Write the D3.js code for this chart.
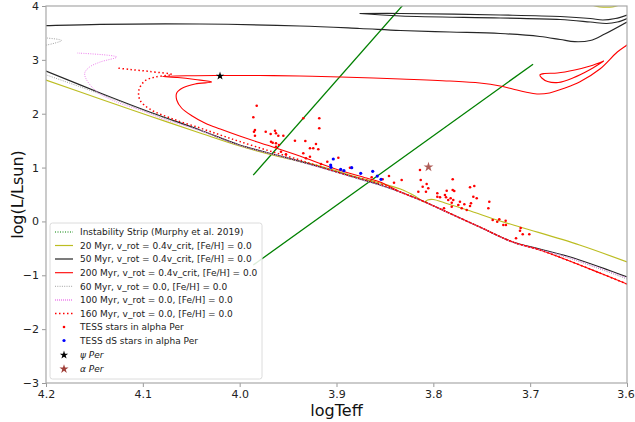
<!DOCTYPE html>
<html>
<head>
<meta charset="utf-8">
<script src="https://cdn.jsdelivr.net/npm/d3@7"></script>
<style>
  body { margin: 0; background: #fff; }
  svg { font-family: "DejaVu Sans", sans-serif; }
</style>
</head>
<body>
<div id="chartDiv"></div>
<script>

// ---- data: [logTeff, log(L/Lsun)] ----
const stripBlueEdge = [[3.986, 0.86], [3.820, 4.25]];
const stripRedEdge = [[3.986, -0.81], [3.697, 2.92]];

const iso20 = [[3.600,-0.753],[3.649,-0.438],[3.707,-0.122],[3.731,0.008],[3.765,0.212],[3.788,0.342],
  [3.800,0.407],[3.806,0.398],[3.809,0.361],[3.819,0.472],[3.834,0.602],[3.855,0.713],[3.876,0.806],
  [3.917,1.029],[3.958,1.196],[4.000,1.400],[4.041,1.642],[4.093,1.958],[4.144,2.273],[4.200,2.626],[4.210,2.69]];
const iso20Top = [[3.640,4.037],[3.628,3.985],[3.615,3.985],[3.605,4.037]];

const iso50 = [[3.600,-1.032],[3.628,-0.846],[3.662,-0.642],[3.690,-0.512],[3.718,-0.382],[3.752,-0.104],
  [3.786,0.175],[3.811,0.379],[3.834,0.546],[3.855,0.676],[3.876,0.788],[3.917,1.011],[3.958,1.215],
  [4.000,1.419],[4.041,1.698],[4.093,2.032],[4.144,2.385],[4.200,2.793],[4.210,2.86]];
const iso50Giant = [[4.210,3.630],[4.200,3.635],[4.144,3.660],[4.041,3.666],[3.938,3.629],[3.876,3.582],
  [3.834,3.545],[3.783,3.517],[3.731,3.489],[3.690,3.434],[3.669,3.378],[3.654,3.337],[3.638,3.359],
  [3.623,3.480],[3.600,3.703]];
const iso50LoopA = [[3.876,3.861],[3.834,3.861],[3.731,3.833],[3.669,3.805],[3.638,3.768],[3.625,3.740],
  [3.612,3.768],[3.600,3.833]];
const iso50LoopB = [[3.876,3.861],[3.834,3.814],[3.731,3.777],[3.669,3.749],[3.638,3.703],[3.621,3.675],
  [3.610,3.703],[3.600,3.768]];

const iso200 = [[3.600,-1.162],[3.628,-0.958],[3.662,-0.716],[3.690,-0.530],[3.718,-0.382],[3.752,-0.104],
  [3.786,0.175],[3.811,0.379],[3.834,0.546],[3.855,0.732],[3.869,0.806],[3.904,0.992],[3.938,1.215],
  [3.972,1.419],[4.000,1.586],[4.020,1.716],[4.036,1.828],[4.049,1.958],[4.060,2.106],[4.065,2.255],
  [4.065,2.385],[4.059,2.477],[4.046,2.552],[4.029,2.589],[4.046,2.635],[4.064,2.672],[4.080,2.691],
  [4.051,2.706],[4.020,2.710],[3.979,2.710],[3.938,2.700],[3.896,2.682],[3.834,2.645],[3.783,2.607],
  [3.752,2.570],[3.731,2.515],[3.718,2.459],[3.705,2.403],[3.693,2.366],[3.680,2.385],[3.664,2.477],
  [3.649,2.589],[3.628,2.830],[3.610,3.146],[3.600,3.276],[3.587,3.443]];
const iso200Loop = [[3.624,2.979],[3.638,2.886],[3.654,2.812],[3.672,2.756],[3.685,2.747],[3.690,2.719],
  [3.688,2.663],[3.682,2.598],[3.671,2.580],[3.656,2.663],[3.638,2.821],[3.624,2.979]];

const iso60 = [[3.600,-1.069],[3.628,-0.883],[3.662,-0.670],[3.690,-0.530],[3.718,-0.392],[3.752,-0.110],
  [3.786,0.168],[3.811,0.372],[3.834,0.540],[3.855,0.670],[3.876,0.780],[3.917,1.000],[3.958,1.205],
  [4.000,1.408],[4.041,1.685],[4.093,2.015],[4.144,2.365],[4.206,2.760]];
const iso60Hook = [[4.206,3.415],[4.199,3.406],[4.184,3.360],[4.199,3.276],[4.206,3.262]];

const iso100 = [[3.600,-1.050],[3.628,-0.870],[3.662,-0.660],[3.690,-0.525],[3.718,-0.385],[3.752,-0.107],
  [3.786,0.172],[3.811,0.375],[3.834,0.543],[3.855,0.673],[3.876,0.785],[3.917,1.005],[3.958,1.210],
  [4.000,1.412],[4.041,1.690],[4.079,1.902],[4.103,2.069],[4.127,2.217],[4.147,2.403],[4.158,2.626],
  [4.160,2.756],[4.155,2.867],[4.144,2.960],[4.127,3.053],[4.168,3.127]];

const iso160 = [[3.600,-1.162],[3.628,-0.958],[3.662,-0.716],[3.690,-0.530],[3.718,-0.382],[3.752,-0.104],
  [3.786,0.175],[3.811,0.379],[3.834,0.546],[3.855,0.695],[3.896,0.899],[3.938,1.141],[3.969,1.308],
  [4.000,1.484],[4.020,1.605],[4.041,1.735],[4.069,1.902],[4.093,2.088],[4.103,2.255],[4.104,2.440],
  [4.098,2.607],[4.087,2.682],[4.070,2.728],[4.093,2.784],[4.113,2.821],[4.127,2.849]];

const tessTeff = [3.9824,3.9859,3.9842,3.9852,3.9842,3.9731,3.968,3.9635,3.9625,3.9601,3.9549,3.9676,3.9659,
  3.9625,3.9625,3.9594,3.9573,3.9522,3.9429,3.9343,3.9322,3.9274,3.9343,3.9178,3.9178,3.9212,3.924,3.9188,
  3.9315,3.9274,3.916,3.9095,3.8981,3.8861,3.8637,3.8523,3.8458,3.8406,3.8327,3.8138,3.813,3.8069,3.811,
  3.8052,3.8155,3.8076,3.7959,3.7959,3.7931,3.7862,3.78,3.7784,3.78,3.788,3.7869,3.7821,3.7794,3.781,
  3.7846,3.7725,3.7742,3.768,3.7707,3.7655,3.7621,3.7577,3.7587,3.7552,3.7611,3.7621,3.789,3.781,3.7422,
  3.7432,3.7387,3.7319,3.734,3.7253,3.7277,3.725,3.7146,3.7105,3.7077,3.7009,3.7098];
const tessLum = [2.149,1.933,1.698,1.666,1.592,1.666,1.623,1.685,1.636,1.592,1.592,1.480,1.462,1.451,1.387,
  1.419,1.295,1.246,1.499,1.915,1.493,1.358,1.265,1.915,1.729,1.438,1.358,1.339,1.172,1.202,1.066,1.109,
  1.183,0.998,0.819,0.782,0.843,0.719,0.769,0.955,0.769,0.695,0.645,0.615,0.552,0.552,0.522,0.459,0.448,
  0.571,0.584,0.565,0.782,0.491,0.448,0.429,0.398,0.348,0.398,0.366,0.305,0.318,0.244,0.212,0.634,0.658,
  0.459,0.429,0.337,0.286,0.244,0.273,0.366,0.244,0.026,0.039,-0.005,0.013,-0.066,-0.066,-0.313,-0.172,
  -0.239,-0.239,-0.122];

const dsTeff = [3.9033,3.906,3.9057,3.8957,3.8923,3.8843,3.875,3.8626,3.8579,3.854];
const dsLum = [1.159,1.048,1.005,0.968,0.942,0.998,0.894,0.931,0.843,0.782];

const psiPer = [4.0203, 2.700];
const alphaPer = [3.805, 1.011];

const xTicks = [4.2, 4.1, 4.0, 3.9, 3.8, 3.7, 3.6];
const yTicks = [4, 3, 2, 1, 0, -1, -2, -3];

// ---- layout ----
const W = 635, H = 422;
const margin = { left: 46, right: 8, top: 6, bottom: 39 };

const svg = d3.select('#chartDiv').append('svg')
  .attr('width', W).attr('height', H);

const x = d3.scaleLinear().domain([4.2, 3.6]).range([margin.left, W - margin.right]);
const y = d3.scaleLinear().domain([-3, 4]).range([H - margin.bottom, margin.top]);

svg.append('clipPath').attr('id', 'plotClip')
  .append('rect')
  .attr('x', x(4.2)).attr('y', y(4))
  .attr('width', x(3.6) - x(4.2)).attr('height', y(-3) - y(4));

const plotG = svg.append('g').attr('clip-path', 'url(#plotClip)');

const lineFn = d3.line().x(d => x(d[0])).y(d => y(d[1])).curve(d3.curveCatmullRom.alpha(0.5));

// styles, by series
const styles = {
  strip: { stroke: '#008000', width: 1.3, dash: null },
  m20:   { stroke: '#bcbd22', width: 1.2, dash: null },
  m50:   { stroke: '#262626', width: 1.2, dash: null },
  m200:  { stroke: '#ff0000', width: 1.1, dash: null },
  m60:   { stroke: '#888888', width: 0.8, dash: '1,1.3' },
  m100:  { stroke: '#ee82ee', width: 1.0, dash: '1,1.3' },
  m160:  { stroke: '#ff0000', width: 1.5, dash: '1.5,2.5' }
};

const drawPath = (data, st) => {
  plotG.append('path')
    .datum(data)
    .attr('d', lineFn)
    .attr('fill', 'none')
    .attr('stroke', st.stroke)
    .attr('stroke-width', st.width)
    .attr('stroke-dasharray', st.dash)
    .attr('stroke-linejoin', 'round');
};

drawPath(stripBlueEdge, styles.strip);
drawPath(stripRedEdge, styles.strip);
drawPath(iso20, styles.m20);
drawPath(iso20Top, styles.m20);
[iso50, iso50Giant, iso50LoopA, iso50LoopB].forEach(d => drawPath(d, styles.m50));
drawPath(iso200, styles.m200);
drawPath(iso200Loop, styles.m200);
drawPath(iso60, styles.m60);
drawPath(iso60Hook, styles.m60);
drawPath(iso100, styles.m100);
drawPath(iso160, styles.m160);

// stars
plotG.selectAll('.tess').data(d3.range(tessTeff.length)).enter()
  .append('circle')
  .attr('class', 'tess')
  .attr('cx', i => x(tessTeff[i]))
  .attr('cy', i => y(tessLum[i]))
  .attr('r', 1.3)
  .attr('fill', '#ff0000');

plotG.selectAll('.ds').data(d3.range(dsTeff.length)).enter()
  .append('circle')
  .attr('class', 'ds')
  .attr('cx', i => x(dsTeff[i]))
  .attr('cy', i => y(dsLum[i]))
  .attr('r', 1.6)
  .attr('fill', '#0000ff');

const starSym = d3.symbol().type(d3.symbolStar);
plotG.append('path')
  .attr('d', starSym.size(22)())
  .attr('transform', `translate(${x(psiPer[0])},${y(psiPer[1])})`)
  .attr('fill', '#000');
plotG.append('path')
  .attr('d', starSym.size(30)())
  .attr('transform', `translate(${x(alphaPer[0])},${y(alphaPer[1])})`)
  .attr('fill', '#a0403a')
  .attr('opacity', 0.85);

// ---- axes ----
const xAxis = d3.axisBottom(x).tickValues(xTicks).tickFormat(d3.format('.1f')).tickSize(4);
const yAxis = d3.axisLeft(y).tickValues(yTicks).tickFormat(d => d < 0 ? '\u2212' + Math.abs(d) : d).tickSize(4);

const gx = svg.append('g').attr('transform', `translate(0,${y(-3)})`).call(xAxis);
const gy = svg.append('g').attr('transform', `translate(${x(4.2)},0)`).call(yAxis);
[gx, gy].forEach(g => {
  g.select('.domain').remove();
  g.selectAll('.tick line').attr('stroke', '#999');
  g.selectAll('.tick text').attr('fill', '#222').style('font-size', '11px')
    .style('font-family', '"DejaVu Sans", sans-serif');
});
// last label sits on the window edge
gx.selectAll('.tick text').filter(d => d === 3.6).attr('dx', '-1.5');

// frame
svg.append('rect')
  .attr('x', x(4.2)).attr('y', y(4))
  .attr('width', x(3.6) - x(4.2)).attr('height', y(-3) - y(4))
  .attr('fill', 'none').attr('stroke', '#a8a8a8').attr('stroke-width', 1.2);

svg.append('text')
  .attr('x', (x(4.2) + x(3.6)) / 2).attr('y', 416)
  .attr('text-anchor', 'middle')
  .style('font-size', '16px').attr('fill', '#111')
  .text('logTeff');

svg.append('text')
  .attr('transform', `translate(23,${(y(4) + y(-3)) / 2}) rotate(-90)`)
  .attr('text-anchor', 'middle')
  .style('font-size', '16px').attr('fill', '#111')
  .text('log(L/Lsun)');

// ---- legend ----
const legendItems = [
  { label: 'Instability Strip (Murphy et al. 2019)', kind: 'line', st: { stroke: '#008000', width: 1, dash: '1,1.5' } },
  { label: '20 Myr, v_rot = 0.4v_crit, [Fe/H] = 0.0', kind: 'line', st: styles.m20 },
  { label: '50 Myr, v_rot = 0.4v_crit, [Fe/H] = 0.0', kind: 'line', st: styles.m50 },
  { label: '200 Myr, v_rot = 0.4v_crit, [Fe/H] = 0.0', kind: 'line', st: styles.m200 },
  { label: '60 Myr, v_rot = 0.0, [Fe/H] = 0.0', kind: 'line', st: styles.m60 },
  { label: '100 Myr, v_rot = 0.0, [Fe/H] = 0.0', kind: 'line', st: { stroke: '#ee82ee', width: 1.6, dash: '1,1' } },
  { label: '160 Myr, v_rot = 0.0, [Fe/H] = 0.0', kind: 'line', st: styles.m160 },
  { label: 'TESS stars in alpha Per', kind: 'dot', color: '#ff0000', r: 1.3 },
  { label: 'TESS dS stars in alpha Per', kind: 'dot', color: '#0000ff', r: 1.6 },
  { label: '\u03C8 Per', kind: 'star', color: '#000', size: 22, italic: true },
  { label: '\u03B1 Per', kind: 'star', color: '#a0403a', size: 26, italic: true }
];

const legendG = svg.append('g');
const legX = 50, legY = 223, legW = 212, legH = 156;
legendG.append('rect')
  .attr('x', legX).attr('y', legY).attr('width', legW).attr('height', legH)
  .attr('rx', 2.5)
  .attr('fill', 'rgba(255,255,255,0.85)')
  .attr('stroke', '#dcdcdc').attr('stroke-width', 1);

const rowY = [232, 245.5, 259, 272.7, 286.3, 300, 313.5, 327, 340.5, 355, 369];

legendItems.forEach((it, i) => {
  const cy = rowY[i];
  const row = legendG.append('g');
  if (it.kind === 'line') {
    row.append('line')
      .attr('x1', 55).attr('x2', 73).attr('y1', cy).attr('y2', cy)
      .attr('stroke', it.st.stroke).attr('stroke-width', it.st.width)
      .attr('stroke-dasharray', it.st.dash);
  } else if (it.kind === 'dot') {
    row.append('circle').attr('cx', 64).attr('cy', cy).attr('r', it.r).attr('fill', it.color);
  } else {
    row.append('path').attr('d', starSym.size(it.size)())
      .attr('transform', `translate(64,${cy})`).attr('fill', it.color);
  }
  row.append('text')
    .attr('x', 80).attr('y', cy + 3.3)
    .style('font-size', '9px')
    .style('font-style', it.italic ? 'italic' : 'normal')
    .attr('fill', '#222')
    .text(it.label);
});

</script>
</body>
</html>
